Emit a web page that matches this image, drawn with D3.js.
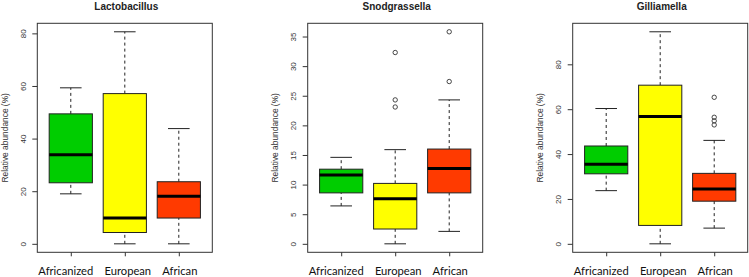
<!DOCTYPE html>
<html>
<head>
<meta charset="utf-8">
<script src="https://cdn.jsdelivr.net/npm/d3@7"></script>
<style>
  body { margin: 0; background: #fff; }
  svg { display: block; }
</style>
</head>
<body>
<div id="chart"></div>
<script>
// groups on the x axis
const groups = ["Africanized", "European", "African"];

// boxplot stats per group: [lower whisker, Q1, median, Q3, upper whisker]
const lactoStats = [[19.0, 23.2, 33.9, 49.4, 59.3], [0, 4.3, 9.8, 57.1, 80.6], [0, 9.8, 18.1, 23.6, 43.8]];
const lactoOutliers = [[], [], []];
const lactoTicks = [0, 20, 40, 60, 80];

const snodStats = [[6.4, 8.6, 11.6, 12.6, 14.6], [0, 2.5, 7.6, 10.2, 15.9], [2.1, 8.6, 12.7, 16.0, 24.3]];
const snodOutliers = [[], [32.3, 24.3, 23.1], [35.8, 27.4]];
const snodTicks = [0, 5, 10, 15, 20, 25, 30, 35];

const gilliStats = [[23.7, 31.2, 35.5, 43.6, 60.3], [0, 8.2, 56.7, 70.7, 94.5], [7.0, 19.0, 24.4, 31.4, 46.1]];
const gilliOutliers = [[], [], [65.3, 56.4, 54.8, 53.0]];
const gilliTicks = [0, 20, 40, 60, 80];

const titles = ["Lactobacillus", "Snodgrassella", "Gilliamella"];
const yTitle = "Relative abundance (%)";

const boxColors = ["#00cd00", "#ffff00", "#ff3a00"];
const labelShift = [-5, 3, 1]; // x labels are a bit off-centre in the original

const W = 749, H = 277;
const plotW = 175, plotTop = 23.3, plotBottom = 252.3;
const plotLefts = [37.3, 307.7, 572.7];

const svg = d3.select("#chart").append("svg")
    .attr("width", W).attr("height", H)
    .attr("viewBox", `0 0 ${W} ${H}`);

const panels = [
  {stats: lactoStats, out: lactoOutliers, ticks: lactoTicks},
  {stats: snodStats, out: snodOutliers, ticks: snodTicks},
  {stats: gilliStats, out: gilliOutliers, ticks: gilliTicks}
];

panels.forEach(function(p, i) {
  const g = svg.append("g").attr("transform", `translate(${plotLefts[i]},0)`);

  // R style 4% padding on both axes
  const allVals = p.stats.flat().concat(p.out.flat());
  const lo = d3.min(allVals), hi = d3.max(allVals), pad = (hi - lo) * 0.04;
  const y = d3.scaleLinear().domain([lo - pad, hi + pad]).range([plotBottom, plotTop]);
  const x = d3.scaleLinear().domain([0.38, 3.62]).range([0, plotW]);
  const half = x(1.4) - x(1);
  const cap = half / 2;

  // y axis
  const ya = g.append("g")
      .call(d3.axisLeft(y).tickValues(p.ticks).tickSize(5).tickPadding(0));
  ya.select(".domain").remove();
  ya.selectAll("line").attr("stroke", "#333");
  ya.selectAll("text")
      .attr("x", 0).attr("dy", null).attr("y", 0)
      .attr("transform", "translate(-14,0) rotate(-90)")
      .attr("text-anchor", "middle")
      .attr("dominant-baseline", "central")
      .attr("font-family", "Liberation Sans, Arial, sans-serif")
      .attr("font-size", 8)
      .attr("fill", "#333");

  // x axis ticks only
  const xa = g.append("g").attr("transform", `translate(0,${plotBottom})`)
      .call(d3.axisBottom(x).tickValues([1, 2, 3]).tickSize(4).tickFormat(""));
  xa.select(".domain").remove();
  xa.selectAll("line").attr("stroke", "#333");

  // x labels
  g.selectAll(".xlab").data(groups).join("text")
      .attr("x", (d, j) => x(j + 1) + labelShift[j])
      .attr("y", 274.5)
      .attr("text-anchor", "middle")
      .attr("font-family", "Lato, sans-serif")
      .attr("font-size", 11.2)
      .attr("fill", "#111")
      .text(d => d);

  // whiskers
  const box = g.selectAll(".box").data(p.stats).join("g")
      .attr("transform", (d, j) => `translate(${x(j + 1)},0)`);
  box.append("line")
      .attr("y1", d => y(d[3])).attr("y2", d => y(d[4]))
      .attr("stroke", "#222").attr("stroke-dasharray", "3,3");
  box.append("line")
      .attr("y1", d => y(d[0])).attr("y2", d => y(d[1]))
      .attr("stroke", "#222").attr("stroke-dasharray", "3,3");
  box.append("line")
      .attr("x1", -cap).attr("x2", cap)
      .attr("y1", d => y(d[4])).attr("y2", d => y(d[4]))
      .attr("stroke", "#222");
  box.append("line")
      .attr("x1", -cap).attr("x2", cap)
      .attr("y1", d => y(d[0])).attr("y2", d => y(d[0]))
      .attr("stroke", "#222");
  box.append("rect")
      .attr("x", -half).attr("width", half * 2)
      .attr("y", d => y(d[3])).attr("height", d => y(d[1]) - y(d[3]))
      .attr("fill", (d, j) => boxColors[j])
      .attr("stroke", "#222");
  box.append("line")
      .attr("x1", -half).attr("x2", half)
      .attr("y1", d => y(d[2])).attr("y2", d => y(d[2]))
      .attr("stroke", "#000").attr("stroke-width", 3);

  // outliers
  p.out.forEach(function(arr, j) {
    g.selectAll(".out" + j).data(arr).join("circle")
        .attr("cx", x(j + 1)).attr("cy", d => y(d))
        .attr("r", 2.2)
        .attr("fill", "none").attr("stroke", "#333").attr("stroke-width", 0.9);
  });

  // frame
  g.append("rect")
      .attr("x", 0).attr("y", plotTop)
      .attr("width", plotW).attr("height", plotBottom - plotTop)
      .attr("fill", "none").attr("stroke", "#333");

  // title
  g.append("text")
      .attr("x", plotW / 2 + 1.5).attr("y", 9.5)
      .attr("text-anchor", "middle")
      .attr("font-family", "Liberation Sans, Arial, sans-serif")
      .attr("font-weight", "bold")
      .attr("font-size", 10)
      .attr("fill", "#222")
      .text(titles[i]);

  // y title
  g.append("text")
      .attr("transform", `translate(-32.5,${(plotTop + plotBottom) / 2}) rotate(-90)`)
      .attr("text-anchor", "middle")
      .attr("dominant-baseline", "central")
      .attr("font-family", "Liberation Sans, Arial, sans-serif")
      .attr("font-size", 8.4)
      .attr("fill", "#333")
      .text(yTitle);
});
</script>
</body>
</html>
